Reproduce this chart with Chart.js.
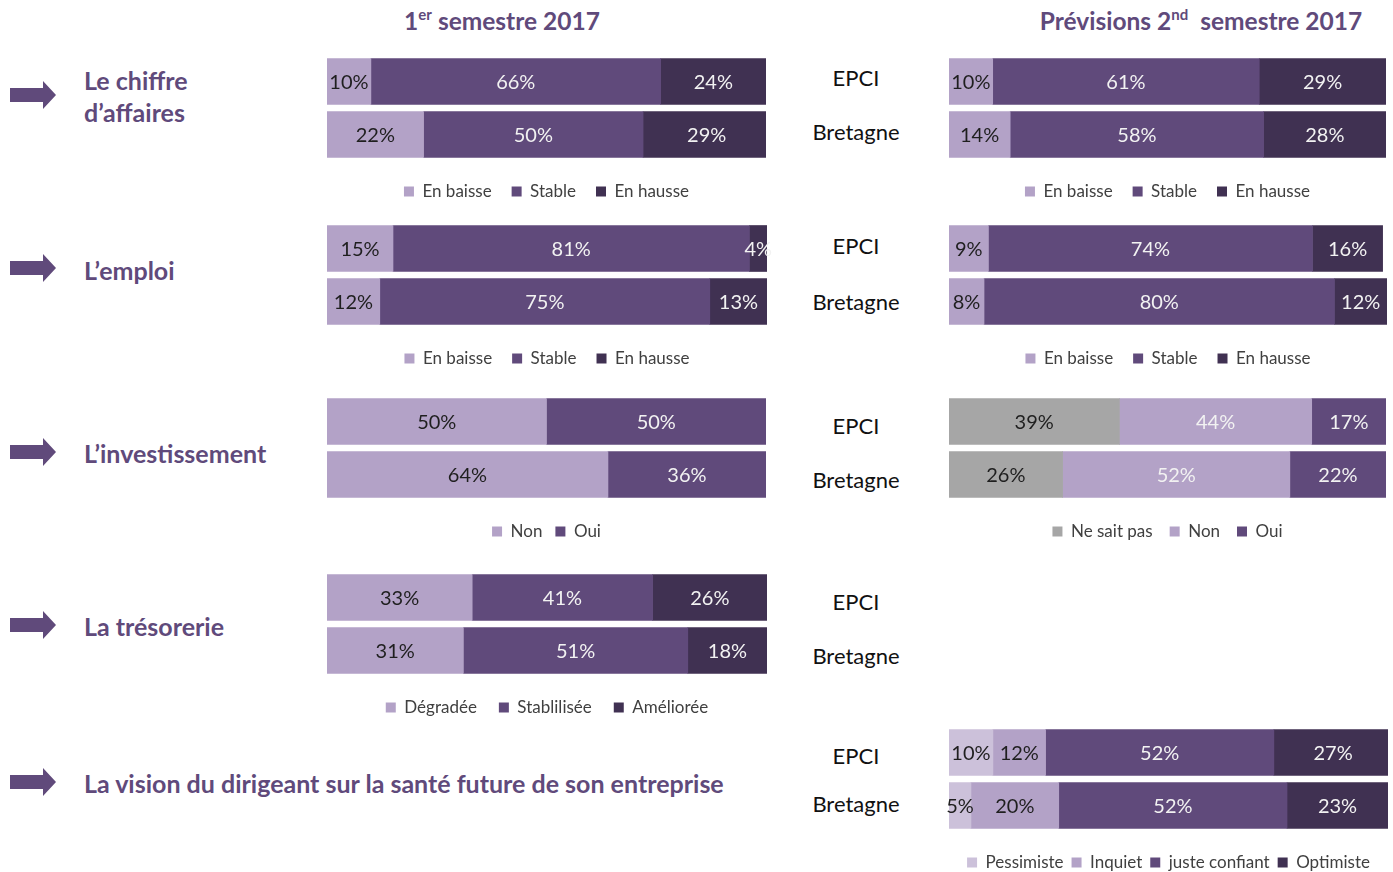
<!DOCTYPE html>
<html lang="fr">
<head>
  <meta charset="UTF-8">
  <title>Conjoncture 2017</title>
  <script src="https://cdn.jsdelivr.net/npm/chart.js"></script>
  <style>
    body {
      margin: 0;
      width: 1393px;
      height: 872px;
      background: #fff;
      font-family: "Lato", sans-serif;
      position: relative;
      overflow: hidden;
    }
    .abs { position: absolute; }
    .title {
      font-weight: bold;
      font-size: 24.5px;
      color: #604a7b;
      text-align: center;
      transform: translateY(-50%);
      white-space: nowrap;
    }
    .title sup { font-size: 15px; }
    .theme {
      font-weight: bold;
      font-size: 25px;
      color: #604a7b;
      line-height: 32px;
      transform: translateY(-50%);
      white-space: nowrap;
    }
    .region {
      font-size: 22px;
      color: #111;
      width: 120px;
      text-align: center;
      transform: translateY(-50%);
    }
    .box { position: absolute; height: 155px; }
  </style>
</head>
<body>

  <div class="abs title" style="left:302px; width:400px; top:20px;">1<sup>er</sup> semestre 2017</div>
  <div class="abs title" style="left:1001px; width:400px; top:20px;">Prévisions 2<sup>nd</sup>&nbsp; semestre 2017</div>

  <!-- flèches -->
  <svg class="abs" style="left:0; top:0;" width="70" height="872">
    <g fill="#604a7b">
      <polygon points="10,88 43,88 43,81 56,95 43,109 43,102 10,102"/>
      <polygon points="10,261 43,261 43,254 56,268 43,282 43,275 10,275"/>
      <polygon points="10,445 43,445 43,438 56,452 43,466 43,459 10,459"/>
      <polygon points="10,618 43,618 43,611 56,625 43,639 43,632 10,632"/>
      <polygon points="10,775 43,775 43,768 56,782 43,796 43,789 10,789"/>
    </g>
  </svg>

  <div class="abs theme" style="left:84px; top:96px;">Le chiffre<br>d’affaires</div>
  <div class="abs theme" style="left:84px; top:270px;">L’emploi</div>
  <div class="abs theme" style="left:84px; top:453px;">L’investissement</div>
  <div class="abs theme" style="left:84px; top:626px;">La trésorerie</div>
  <div class="abs theme" style="left:84px; top:783px;">La vision du dirigeant sur la santé future de son entreprise</div>

  <div class="abs region" style="left:796px; top:77px;">EPCI</div>
  <div class="abs region" style="left:796px; top:131px;">Bretagne</div>
  <div class="abs region" style="left:796px; top:245px;">EPCI</div>
  <div class="abs region" style="left:796px; top:301px;">Bretagne</div>
  <div class="abs region" style="left:796px; top:425px;">EPCI</div>
  <div class="abs region" style="left:796px; top:479px;">Bretagne</div>
  <div class="abs region" style="left:796px; top:601px;">EPCI</div>
  <div class="abs region" style="left:796px; top:655px;">Bretagne</div>
  <div class="abs region" style="left:796px; top:755px;">EPCI</div>
  <div class="abs region" style="left:796px; top:803px;">Bretagne</div>

  <div class="box" style="left:321px; top:54.5px; width:451px;"><canvas id="caS1"></canvas></div>
  <div class="box" style="left:943px; top:54.5px; width:449px;"><canvas id="caS2"></canvas></div>
  <div class="box" style="left:321px; top:221.5px; width:452px;"><canvas id="emploiS1"></canvas></div>
  <div class="box" style="left:943px; top:221.5px; width:450px;"><canvas id="emploiS2"></canvas></div>
  <div class="box" style="left:321px; top:394.5px; width:451px;"><canvas id="investS1"></canvas></div>
  <div class="box" style="left:943px; top:394.5px; width:449px;"><canvas id="investS2"></canvas></div>
  <div class="box" style="left:321px; top:570.5px; width:452px;"><canvas id="tresoS1"></canvas></div>
  <div class="box" style="left:943px; top:725.5px; width:451px;"><canvas id="visionS2"></canvas></div>

  <script>
    const regions = ['EPCI', 'Bretagne'];

    const evolNames = ['En baisse', 'Stable', 'En hausse'];
    const investNames = ['Non', 'Oui'];
    const investPrevNames = ['Ne sait pas', 'Non', 'Oui'];
    const tresoNames = ['Dégradée', 'Stablilisée', 'Améliorée'];
    const visionNames = ['Pessimiste', 'Inquiet', 'juste confiant', 'Optimiste'];

    // une ligne par modalité, valeurs [EPCI, Bretagne] en %
    const caS1 = [[10, 22], [66, 50], [24, 29]];
    const caS2 = [[10, 14], [61, 58], [29, 28]];
    const emploiS1 = [[15, 12], [81, 75], [4, 13]];
    const emploiS2 = [[9, 8], [74, 80], [16, 12]];
    const investS1 = [[50, 64], [50, 36]];
    const investS2 = [[39, 26], [44, 52], [17, 22]];
    const tresoS1 = [[33, 31], [41, 51], [26, 18]];
    const visionS2 = [[10, 5], [12, 20], [52, 52], [27, 23]];

    const PALE = '#ccc1da', LIGHT = '#b3a2c7', MID = '#604a7b', DARK = '#403152', GREY = '#a6a6a6';
    const INK = '#1f1f1f', WHITE = '#f2f2f2';

    // pourcentages écrits au milieu de chaque segment
    const valueLabels = {
      id: 'valueLabels',
      afterDatasetsDraw(chart) {
        const ctx = chart.ctx;
        ctx.save();
        ctx.font = '20px Lato';
        ctx.textAlign = 'center';
        ctx.textBaseline = 'middle';
        chart.data.datasets.forEach((ds, i) => {
          chart.getDatasetMeta(i).data.forEach((bar, j) => {
            ctx.fillStyle = ds.labelColor;
            ctx.fillText(ds.data[j] + '%', (bar.x + bar.base) / 2, bar.y + 1);
          });
        });
        ctx.restore();
      }
    };

    // descend la légende dans la marge du bas
    const legendShift = {
      id: 'legendShift',
      afterLayout(chart, args, opts) {
        const lg = chart.legend;
        if (lg && opts.dy) {
          lg.top += opts.dy;
          lg.bottom += opts.dy;
        }
      }
    };

    function stackedBar(id, values, names, colors, textColors, gap) {
      const dy = 22 - gap;
      new Chart(document.getElementById(id), {
        type: 'bar',
        data: {
          labels: regions,
          datasets: values.map((v, i) => ({
            label: names[i],
            data: v,
            backgroundColor: colors[i],
            labelColor: textColors[i],
            borderWidth: 0,
            barThickness: 46
          }))
        },
        options: {
          indexAxis: 'y',
          responsive: true,
          maintainAspectRatio: false,
          animation: false,
          layout: { padding: { left: 6, right: 6, top: 0, bottom: dy } },
          scales: {
            x: { stacked: true, display: false, min: 0, max: 100 },
            y: { stacked: true, display: false }
          },
          plugins: {
            legend: {
              position: 'bottom',
              labels: {
                boxWidth: 10,
                boxHeight: 10,
                padding: gap,
                color: '#404040',
                font: { family: 'Lato', size: 17 }
              }
            },
            tooltip: { enabled: false },
            legendShift: { dy: dy }
          }
        },
        plugins: [valueLabels, legendShift]
      });
    }

    stackedBar('caS1', caS1, evolNames, [LIGHT, MID, DARK], [INK, WHITE, WHITE], 20);
    stackedBar('caS2', caS2, evolNames, [LIGHT, MID, DARK], [INK, WHITE, WHITE], 20);
    stackedBar('emploiS1', emploiS1, evolNames, [LIGHT, MID, DARK], [INK, WHITE, WHITE], 20);
    stackedBar('emploiS2', emploiS2, evolNames, [LIGHT, MID, DARK], [INK, WHITE, WHITE], 20);
    stackedBar('investS1', investS1, investNames, [LIGHT, MID], [INK, WHITE], 13);
    stackedBar('investS2', investS2, investPrevNames, [GREY, LIGHT, MID], [INK, WHITE, WHITE], 17);
    stackedBar('tresoS1', tresoS1, tresoNames, [LIGHT, MID, DARK], [INK, WHITE, WHITE], 22);
    stackedBar('visionS2', visionS2, visionNames, [PALE, LIGHT, MID, DARK], [INK, INK, WHITE, WHITE], 8);
  </script>

</body>
</html>
